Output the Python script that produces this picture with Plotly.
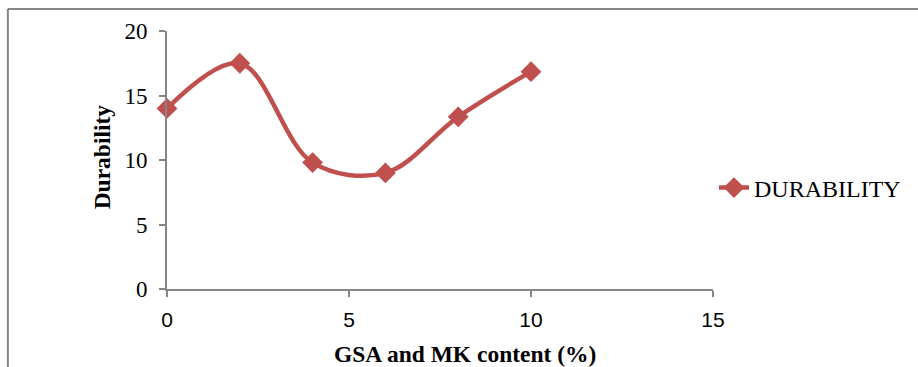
import plotly.graph_objects as go

content = [0, 2, 4, 6, 8, 10]
durability = [14.0, 17.5, 9.8, 9.0, 13.35, 16.85]
series_name = "DURABILITY"
x_title = "GSA and MK content (%)"
y_title = "Durability"
x_ticks = [0, 5, 10, 15]
y_ticks = [0, 5, 10, 15, 20]

W, H = 918, 367
L, R, T, B = 167, 202, 31, 78
pw, ph = W - L - R, H - T - B

red = "#C0504D"
grey = "#868686"

fig = go.Figure()
fig.add_trace(go.Scatter(
    x=content, y=durability, name=series_name, mode="lines+markers",
    line=dict(color=red, width=4.5, shape="spline", smoothing=1.0),
    marker=dict(symbol="diamond", size=16, color=red),
    cliponaxis=False,
))

def px_x(p):
    return (p - L) / pw

def px_y(p):
    return 1 - (p - T) / ph

fig.update_layout(
    width=W, height=H,
    margin=dict(l=L, r=R, t=T, b=B),
    paper_bgcolor="white", plot_bgcolor="white",
    showlegend=True,
    legend=dict(x=px_x(717), y=px_y(188), xanchor="left", yanchor="middle",
                font=dict(family="Liberation Serif", size=24, color="black"),
                bgcolor="rgba(0,0,0,0)"),
    xaxis=dict(range=[0, 15], tickvals=x_ticks, showgrid=False, zeroline=False,
               showline=True, linecolor=grey, linewidth=2,
               ticks="outside", ticklen=6, tickcolor=grey, tickwidth=2,
               ticklabelstandoff=5,
               tickfont=dict(family="Liberation Sans", size=21, color="black")),
    yaxis=dict(range=[0, 20], tickvals=y_ticks, showgrid=False, zeroline=False,
               showline=True, linecolor=grey, linewidth=2,
               ticks="outside", ticklen=6, tickcolor=grey, tickwidth=2,
               ticklabelstandoff=7,
               tickfont=dict(family="Liberation Serif", size=23, color="black")),
    shapes=[
        dict(type="line", xref="paper", yref="paper", x0=px_x(7), x1=px_x(930),
             y0=px_y(9), y1=px_y(9), line=dict(color=grey, width=2)),
        dict(type="line", xref="paper", yref="paper", x0=px_x(7), x1=px_x(7),
             y0=px_y(9), y1=px_y(380), line=dict(color=grey, width=2)),
    ],
    annotations=[
        dict(text="<b>" + x_title + "</b>", xref="paper", yref="paper",
             x=px_x(467), y=px_y(354), xanchor="center", yanchor="middle",
             showarrow=False,
             font=dict(family="Liberation Serif", size=23.5, color="black")),
        dict(text="<b>" + y_title + "</b>", xref="paper", yref="paper",
             x=px_x(102), y=px_y(157), xanchor="center", yanchor="middle",
             showarrow=False, textangle=-90,
             font=dict(family="Liberation Serif", size=23.5, color="black")),
    ],
)

fig.write_html("out.html", config={"displayModeBar": False},
               post_script="document.body.style.margin='0';")
